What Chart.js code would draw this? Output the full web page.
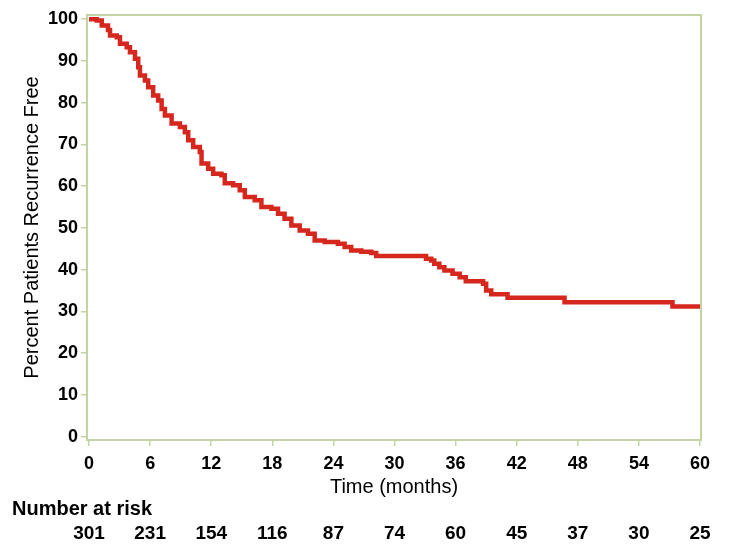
<!DOCTYPE html>
<html>
<head>
<meta charset="utf-8">
<script src="https://cdn.jsdelivr.net/npm/chart.js@4.4.1/dist/chart.umd.min.js"></script>
<style>
    html, body { margin: 0; padding: 0; background: #fff; }
    #wrap { width: 729px; height: 552px; }
</style>
</head>
<body>
<div id="wrap"><canvas id="kmChart" width="729" height="552"></canvas></div>
<script>
// Kaplan-Meier curve (time in months, percent free)
const months = [0, 0.75, 1.25, 1.86, 2.06, 2.72, 3.04, 3.7, 4.02, 4.51, 4.83, 5.0, 5.49, 5.81, 6.3, 6.79,
    7.13, 7.45, 8.11, 8.92, 9.41, 9.74, 10.23, 10.88, 11.05, 11.7, 12.19, 13.0, 13.33, 14.15, 14.8,
    15.3, 16.27, 16.93, 17.91, 18.56, 19.2, 19.87, 20.69, 21.5, 22.16, 23.14, 24.44, 25.1, 25.75,
    26.74, 27.72, 28.2, 33.1, 33.6, 33.9, 34.4, 34.9, 35.7, 36.4, 37.0, 38.7, 39.0, 39.5, 41.1,
    46.7, 57.3, 60];
const survival = [100, 99.7, 98.5, 97.4, 96.1, 95.7, 94.1, 93.3, 92.1, 90.5, 88.5, 86.5, 85.3, 83.7, 81.7, 80.5,
    78.5, 76.9, 75.0, 74.2, 72.9, 71.0, 69.4, 68.2, 65.4, 64.2, 63.0, 62.6, 60.7, 60.2, 59.0,
    57.4, 56.6, 55.0, 54.6, 53.4, 52.2, 50.6, 49.4, 48.6, 47.0, 46.6, 46.2, 45.4, 44.6,
    44.3, 44.0, 43.3, 42.6, 42.2, 41.4, 40.6, 39.8, 39.0, 38.2, 37.2, 36.6, 35.0, 34.1, 33.3,
    32.2, 31.2, 31.2];

const xTicks = [0, 6, 12, 18, 24, 30, 36, 42, 48, 54, 60];
const yTicks = [0, 10, 20, 30, 40, 50, 60, 70, 80, 90, 100];
const atRisk = [301, 231, 154, 116, 87, 74, 60, 45, 37, 30, 25];

const frameColor = '#c3d3a2';
const fontFamily = "'Liberation Sans', Arial, sans-serif";

// Frame round the plot area and the number-at-risk row
const extrasPlugin = {
    id: 'extras',
    afterDraw(chart) {
        const ctx = chart.ctx;
        const area = chart.chartArea;
        ctx.save();
        ctx.strokeStyle = frameColor;
        ctx.lineWidth = 2;
        ctx.strokeRect(area.left, area.top, area.right - area.left, area.bottom - area.top);

        ctx.fillStyle = '#000';
        ctx.font = "bold 20px " + fontFamily;
        ctx.textAlign = 'left';
        ctx.textBaseline = 'middle';
        ctx.fillText('Number at risk', 12, 509);

        ctx.font = "bold 19px " + fontFamily;
        ctx.textAlign = 'center';
        const xs = chart.scales.x;
        xTicks.forEach((t, i) => {
            ctx.fillText(String(atRisk[i]), xs.getPixelForValue(t), 534);
        });
        ctx.restore();
    }
};

new Chart(document.getElementById('kmChart').getContext('2d'), {
    type: 'line',
    data: {
        datasets: [{
            data: months.map((t, i) => ({ x: t, y: survival[i] })),
            borderColor: '#d5271d',
            borderWidth: 4.5,
            pointRadius: 0,
            stepped: true,
            fill: false
        }]
    },
    options: {
        responsive: false,
        animation: false,
        layout: { padding: { left: 0, right: 28, top: 15, bottom: 0 } },
        plugins: {
            legend: { display: false },
            tooltip: { enabled: false }
        },
        scales: {
            x: {
                type: 'linear',
                min: -0.2,
                max: 60.1,
                afterBuildTicks: scale => { scale.ticks = xTicks.map(v => ({ value: v })); },
                afterFit: scale => { scale.height = 112; },
                grid: { drawOnChartArea: false, color: frameColor, tickLength: 6, lineWidth: 1.5 },
                border: { display: false },
                ticks: { color: '#000', font: { family: fontFamily, size: 18, weight: 'bold' }, padding: 7, maxRotation: 0 },
                title: {
                    display: true,
                    text: 'Time (months)',
                    color: '#000',
                    font: { family: fontFamily, size: 20 },
                    padding: { top: 0, bottom: 53 }
                }
            },
            y: {
                min: -0.8,
                max: 101,
                afterBuildTicks: scale => { scale.ticks = yTicks.map(v => ({ value: v })); },
                afterFit: scale => { scale.width = 87; },
                grid: { drawOnChartArea: false, color: frameColor, tickLength: 6, lineWidth: 1.5 },
                border: { display: false },
                ticks: { color: '#000', font: { family: fontFamily, size: 18, weight: 'bold' }, padding: 3 },
                title: {
                    display: true,
                    text: 'Percent Patients Recurrence Free',
                    color: '#000',
                    font: { family: fontFamily, size: 20 },
                    padding: { top: 20, bottom: 0 }
                }
            }
        }
    },
    plugins: [extrasPlugin]
});
</script>
</body>
</html>
